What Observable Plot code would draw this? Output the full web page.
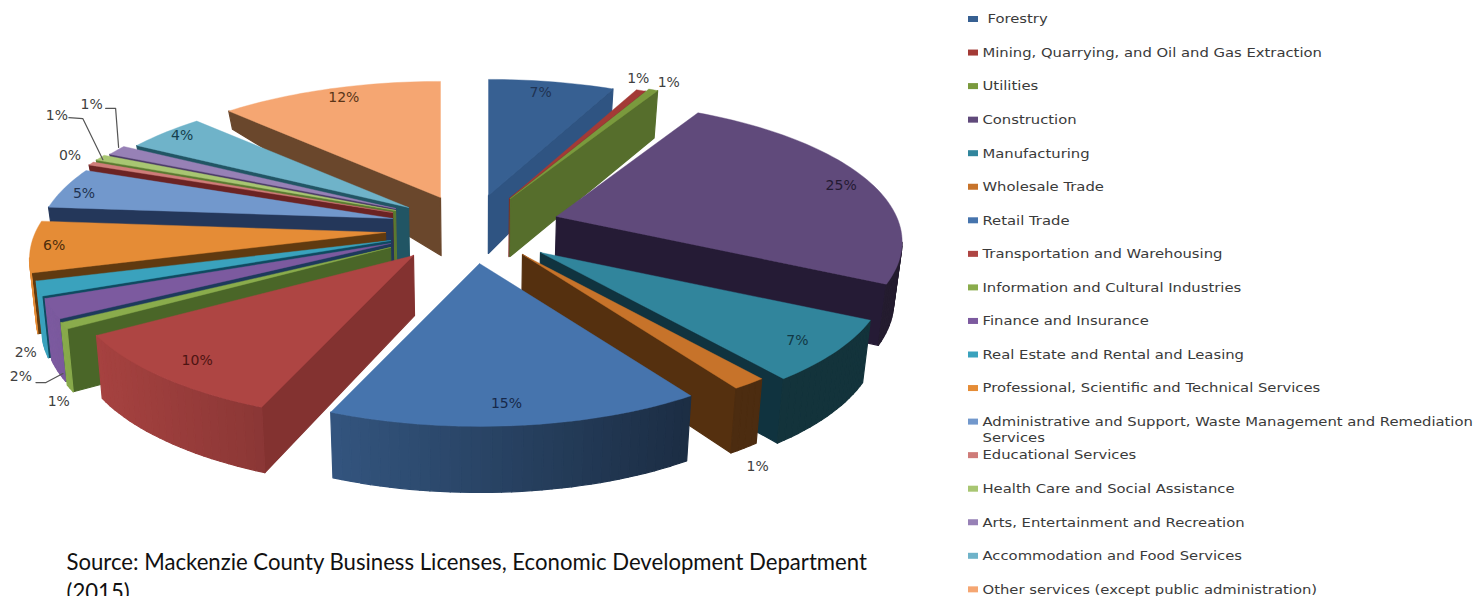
<!DOCTYPE html>
<html>
<head>
<meta charset="utf-8">
<script src="https://cdn.jsdelivr.net/npm/d3@7"></script>
<script src="https://cdn.jsdelivr.net/npm/@observablehq/plot@0.6"></script>
<style>
  html, body { margin: 0; padding: 0; background: #fff; overflow: hidden; }
  svg { display: block; }
</style>
</head>
<body>
<div id="chart"></div>
<script>
// Share of business licences by industry, percent.
const industries = [
  "Forestry", "Mining, Quarrying, and Oil and Gas Extraction", "Utilities", "Construction",
  "Manufacturing", "Wholesale Trade", "Retail Trade", "Transportation and Warehousing",
  "Information and Cultural Industries", "Finance and Insurance", "Real Estate and Rental and Leasing",
  "Professional, Scientific and Technical Services",
  "Administrative and Support, Waste Management and Remediation",
  "Educational Services", "Health Care and Social Assistance", "Arts, Entertainment and Recreation",
  "Accommodation and Food Services", "Other services (except public administration)"
];
const shares = [7.0, 0.5, 0.5, 24.5, 7.0, 1.4, 15.2, 10.0, 0.7, 2.2, 1.6, 5.7, 4.6, 0.4, 0.7, 1.2, 4.4, 12.4];

// Palette: top face and cut-face colours per slice.
const topColors = ["#376092", "#a33a36", "#7a9a3d", "#604a7b", "#31859c", "#c7732a", "#4674ad", "#ae4543", "#8aac4c",
  "#7c5a9f", "#3aa2bd", "#e58c36", "#7298cc", "#cf7c79", "#a8c672", "#9781b6", "#6fb3c9", "#f5a672"];
const cutColors = ["#2f5482", "#7d2b29", "#566e2c", "#251b35", "#10333f", "#55300f", "#1b2c45", "#833230", "#4a6628",
  "#1d3a5c", "#0f4a60", "#603a10", "#24375a", "#6b2323", "#5a7a30", "#4a3a66", "#215564", "#6a472c"];

// Pie layout: how far each slice is pulled from the centre, and its radial reach.
const pullX = [98, 119, 120, 166, 150, 132, 89, 23, 0, 0, 0, -5, 2, 2, 5, 5, 18, 50];
const pullY = [-33, -30, -30, -12, 24, 26, 35, 27, 19, 15, 12, 4, -10, -16, -18, -20, -21, -31];
const reach = [1, 1.02, 1.04, 1, 1, 0.985, 0.975, 0.995, 1.015, 1.02, 1.03, 1.03, 1.03, 1.02, 1.02, 1, 1, 1];
// Percent labels, placed relative to the middle of each slice's rim.
const labelDX = [-11, 0, 21, -24, -39, 5, -12, 37, -10, -37, -23, 13, 10, -27, -49, -25, 17, 14];
const labelDY = [11, -14, -12, 7, -11, 81, -26, -17, 77, 69, 65, -1, 5, -9, -43, -46, 3, 9];
const labelColors = ["#1f3352", "#404040", "#404040", "#241a33", "#123844", "#404040", "#16294a", "#4d1412", "#404040",
  "#404040", "#404040", "#4d2c0c", "#1f3352", "#404040", "#404040", "#404040", "#153f4c", "#5a3518"];

// Leader lines run from a percent label to the rim of its slice.
const leaders = [
  {slice: 14, dx: [-37, -23, -3], dy: [-41, -40, 1]},
  {slice: 15, dx: [-11, -1, 2], dy: [-42, -42, -3]},
  {slice: 9, dx: [-22, -12, 5], dy: [75, 75, 66]}
];

const sourceLines = ["Source: Mackenzie County Business Licenses, Economic Development Department", "(2015)"];

const W = 1483, H = 596;
const centerX = 390, centerY = 228;
const radiusX = 340, radiusY = 137, tilt = 0.18;   // perspective of the pie plane
const legendStretch = 1.232;                       // legend type is set wide

const rad = d => d * Math.PI / 180;
// Rim position for a clockwise angle measured from twelve o'clock.
function rim(theta) {
  const X = Math.sin(rad(theta)), Y = -Math.cos(rad(theta));
  const s = 1 / (1 - tilt * Y);
  return [radiusX * X * s, radiusY * Y * s];
}
// Thickness grows towards the viewer; the lower face converges slightly.
function lower([x, y]) {
  const depth = Math.max(8, Math.min(18 + 0.46 * (y - 110) + 0.09 * (x - 229), 58 + 0.035 * Math.max(0, y - 195)));
  return [x + (480 - x) * (x > 480 ? 0.02 : 0.015), y + depth];
}
function shade(color, x) {
  const k = Math.max(0.38, Math.min(1, 0.95 - (x - 100) * 0.00095));
  const c = d3.rgb(color);
  return d3.rgb(c.r * k, c.g * k, c.b * k).formatHex();
}

const total = d3.sum(shares);
const cumulative = d3.cumsum(shares);
const polygons = [];
const labels = [];
const leaderRows = [];
let nextId = 0;
function addPolygon(points, fill, seam) {
  const id = nextId++;
  for (const [x, y] of [...points, points[0]]) polygons.push({id, x, y, fill, seam});
}

function drawSlice(i) {
  const t1 = cumulative[i] / total * 360;
  const t0 = t1 - shares[i] / total * 360;
  const ax = centerX + pullX[i], ay = centerY + pullY[i];
  const steps = Math.max(1, Math.ceil((t1 - t0) / 1.5));
  const outline = d3.range(steps + 1).map(k => {
    const [x, y] = rim(t0 + (t1 - t0) * k / steps);
    return [ax + x * reach[i], ay + y * reach[i]];
  });
  const apex = [ax, ay];
  // Walls facing the viewer are those traversed leftwards along the clockwise outline.
  const wall = (a, b, fill) => {
    if (b[0] < a[0]) addPolygon([a, b, lower(b), lower(a)], fill, 1.2);
  };
  wall(apex, outline[0], cutColors[i]);
  wall(outline[steps], apex, cutColors[i]);
  for (let k = 0; k < steps; k++) {
    wall(outline[k], outline[k + 1], shade(topColors[i], (outline[k][0] + outline[k + 1][0]) / 2));
  }
  addPolygon([apex, ...outline], topColors[i], 0.4);

  const [mx, my] = rim((t0 + t1) / 2);
  labels.push({
    x: ax + mx + labelDX[i], y: ay + my + labelDY[i],
    text: Math.round(shares[i]) + "%", fill: labelColors[i]
  });
  for (const l of leaders.filter(l => l.slice === i)) {
    l.dx.forEach((dx, k) => leaderRows.push({slice: i, x: ax + mx + dx, y: ay + my + l.dy[k]}));
  }
}

// Painter's order: the left fan from the back forwards, then the right fan.
for (let i = shares.length - 1; i >= 7; i--) drawSlice(i);
for (let i = 0; i < 7; i++) drawSlice(i);

// Legend rows down the right-hand side.
const legendRow = i => 19 + i * 33.55;
const legendSwatches = industries.map((name, i) => ({name, y: legendRow(i), fill: topColors[i]}));
const legendLabels = industries.map((name, i) => ({name, x: i === 0 ? 987 : 982, y: legendRow(i)}));
legendLabels.push({name: "Services", x: 982, y: legendRow(12) + 16});

const chart = Plot.plot({
  width: W, height: H, margin: 0,
  x: {domain: [0, W], range: [0, W], axis: null},
  y: {domain: [0, H], range: [0, H], axis: null},
  color: {type: "identity"},
  marks: [
    Plot.line(polygons, {x: "x", y: "y", z: "id", fill: "fill", stroke: "fill", strokeWidth: "seam", curve: "linear"}),
    Plot.line(leaderRows, {x: "x", y: "y", z: "slice", stroke: "#555555", strokeWidth: 1.2, curve: "linear"}),
    Plot.text(labels, {
      x: "x", y: "y", text: "text", fill: "fill",
      fontFamily: "DejaVu Sans", fontSize: 14
    }),
    Plot.rect(legendSwatches, {
      x1: () => 968, x2: () => 978, y1: d => d.y - 3, y2: d => d.y + 3, fill: "fill"
    }),
    Plot.text(legendLabels, {
      x: "x", y: "y", text: "name", textAnchor: "start", fill: "#3a3a3a",
      fontFamily: "DejaVu Sans", fontSize: 12, className: "legend-text"
    }),
    Plot.text(sourceLines, {
      x: () => 66, y: (d, i) => 562 + i * 30, text: d => d, textAnchor: "start", fill: "#111111",
      fontFamily: "Lato", fontSize: 22.15
    })
  ]
});
document.getElementById("chart").appendChild(chart);

// Widen the legend type while keeping its height.
d3.select(chart).selectAll(".legend-text text").each(function () {
  this.setAttribute("textLength", (this.getComputedTextLength() * legendStretch).toFixed(1));
  this.setAttribute("lengthAdjust", "spacingAndGlyphs");
});
</script>
</body>
</html>
